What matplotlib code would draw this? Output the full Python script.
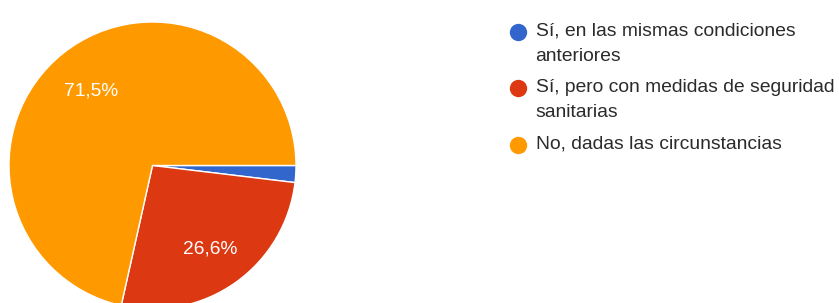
import matplotlib
matplotlib.use('Agg')
import matplotlib.pyplot as plt

labels = ['Sí, en las mismas condiciones\nanteriores',
          'Sí, pero con medidas de seguridad\nsanitarias',
          'No, dadas las circunstancias']
values = [1.9, 26.6, 71.5]
colors = ['#3366cc', '#dc3912', '#ff9900']

W, H = 839, 303
plt.rcParams['font.family'] = ['Liberation Sans', 'DejaVu Sans']

fig = plt.figure(figsize=(W / 100, H / 100), dpi=100)

# pie axes: centre (152.5, 165.5) px from top-left, radius 143.5 px
cx, cy, r = 152.5, 165.5, 143.5
ax = fig.add_axes([(cx - r) / W, (H - cy - r) / H, 2 * r / W, 2 * r / H])


def pct(p):
    return f'{p:.1f}%'.replace('.', ',') if p >= 5 else ''


wedges, texts, autotexts = ax.pie(
    values, colors=colors, startangle=0, counterclock=False,
    autopct=pct, pctdistance=0.69,
    wedgeprops=dict(edgecolor='white', linewidth=1.0),
    textprops=dict(color='white', fontsize=13.8))
for t in autotexts:
    x, y = t.get_position()
    t.set_position((x, y - 0.02))
ax.set_xlim(-1, 1)
ax.set_ylim(-1, 1)
ax.set_aspect('equal')
ax.axis('off')

# legend drawn on a pixel-space overlay
lg = fig.add_axes([0, 0, 1, 1])
lg.set_xlim(0, W)
lg.set_ylim(H, 0)
lg.axis('off')
rows = [32, 88, 144.5]
for y, lab, c in zip(rows, labels, colors):
    lg.plot(517.5, y, 'o', color=c, markersize=12.5, markeredgewidth=0)
    lg.text(535.5, y - 9, lab, fontsize=13.9, color='#2b2b2b',
            va='top', ha='left', linespacing=1.62)

fig.savefig('out.png', dpi=100)
